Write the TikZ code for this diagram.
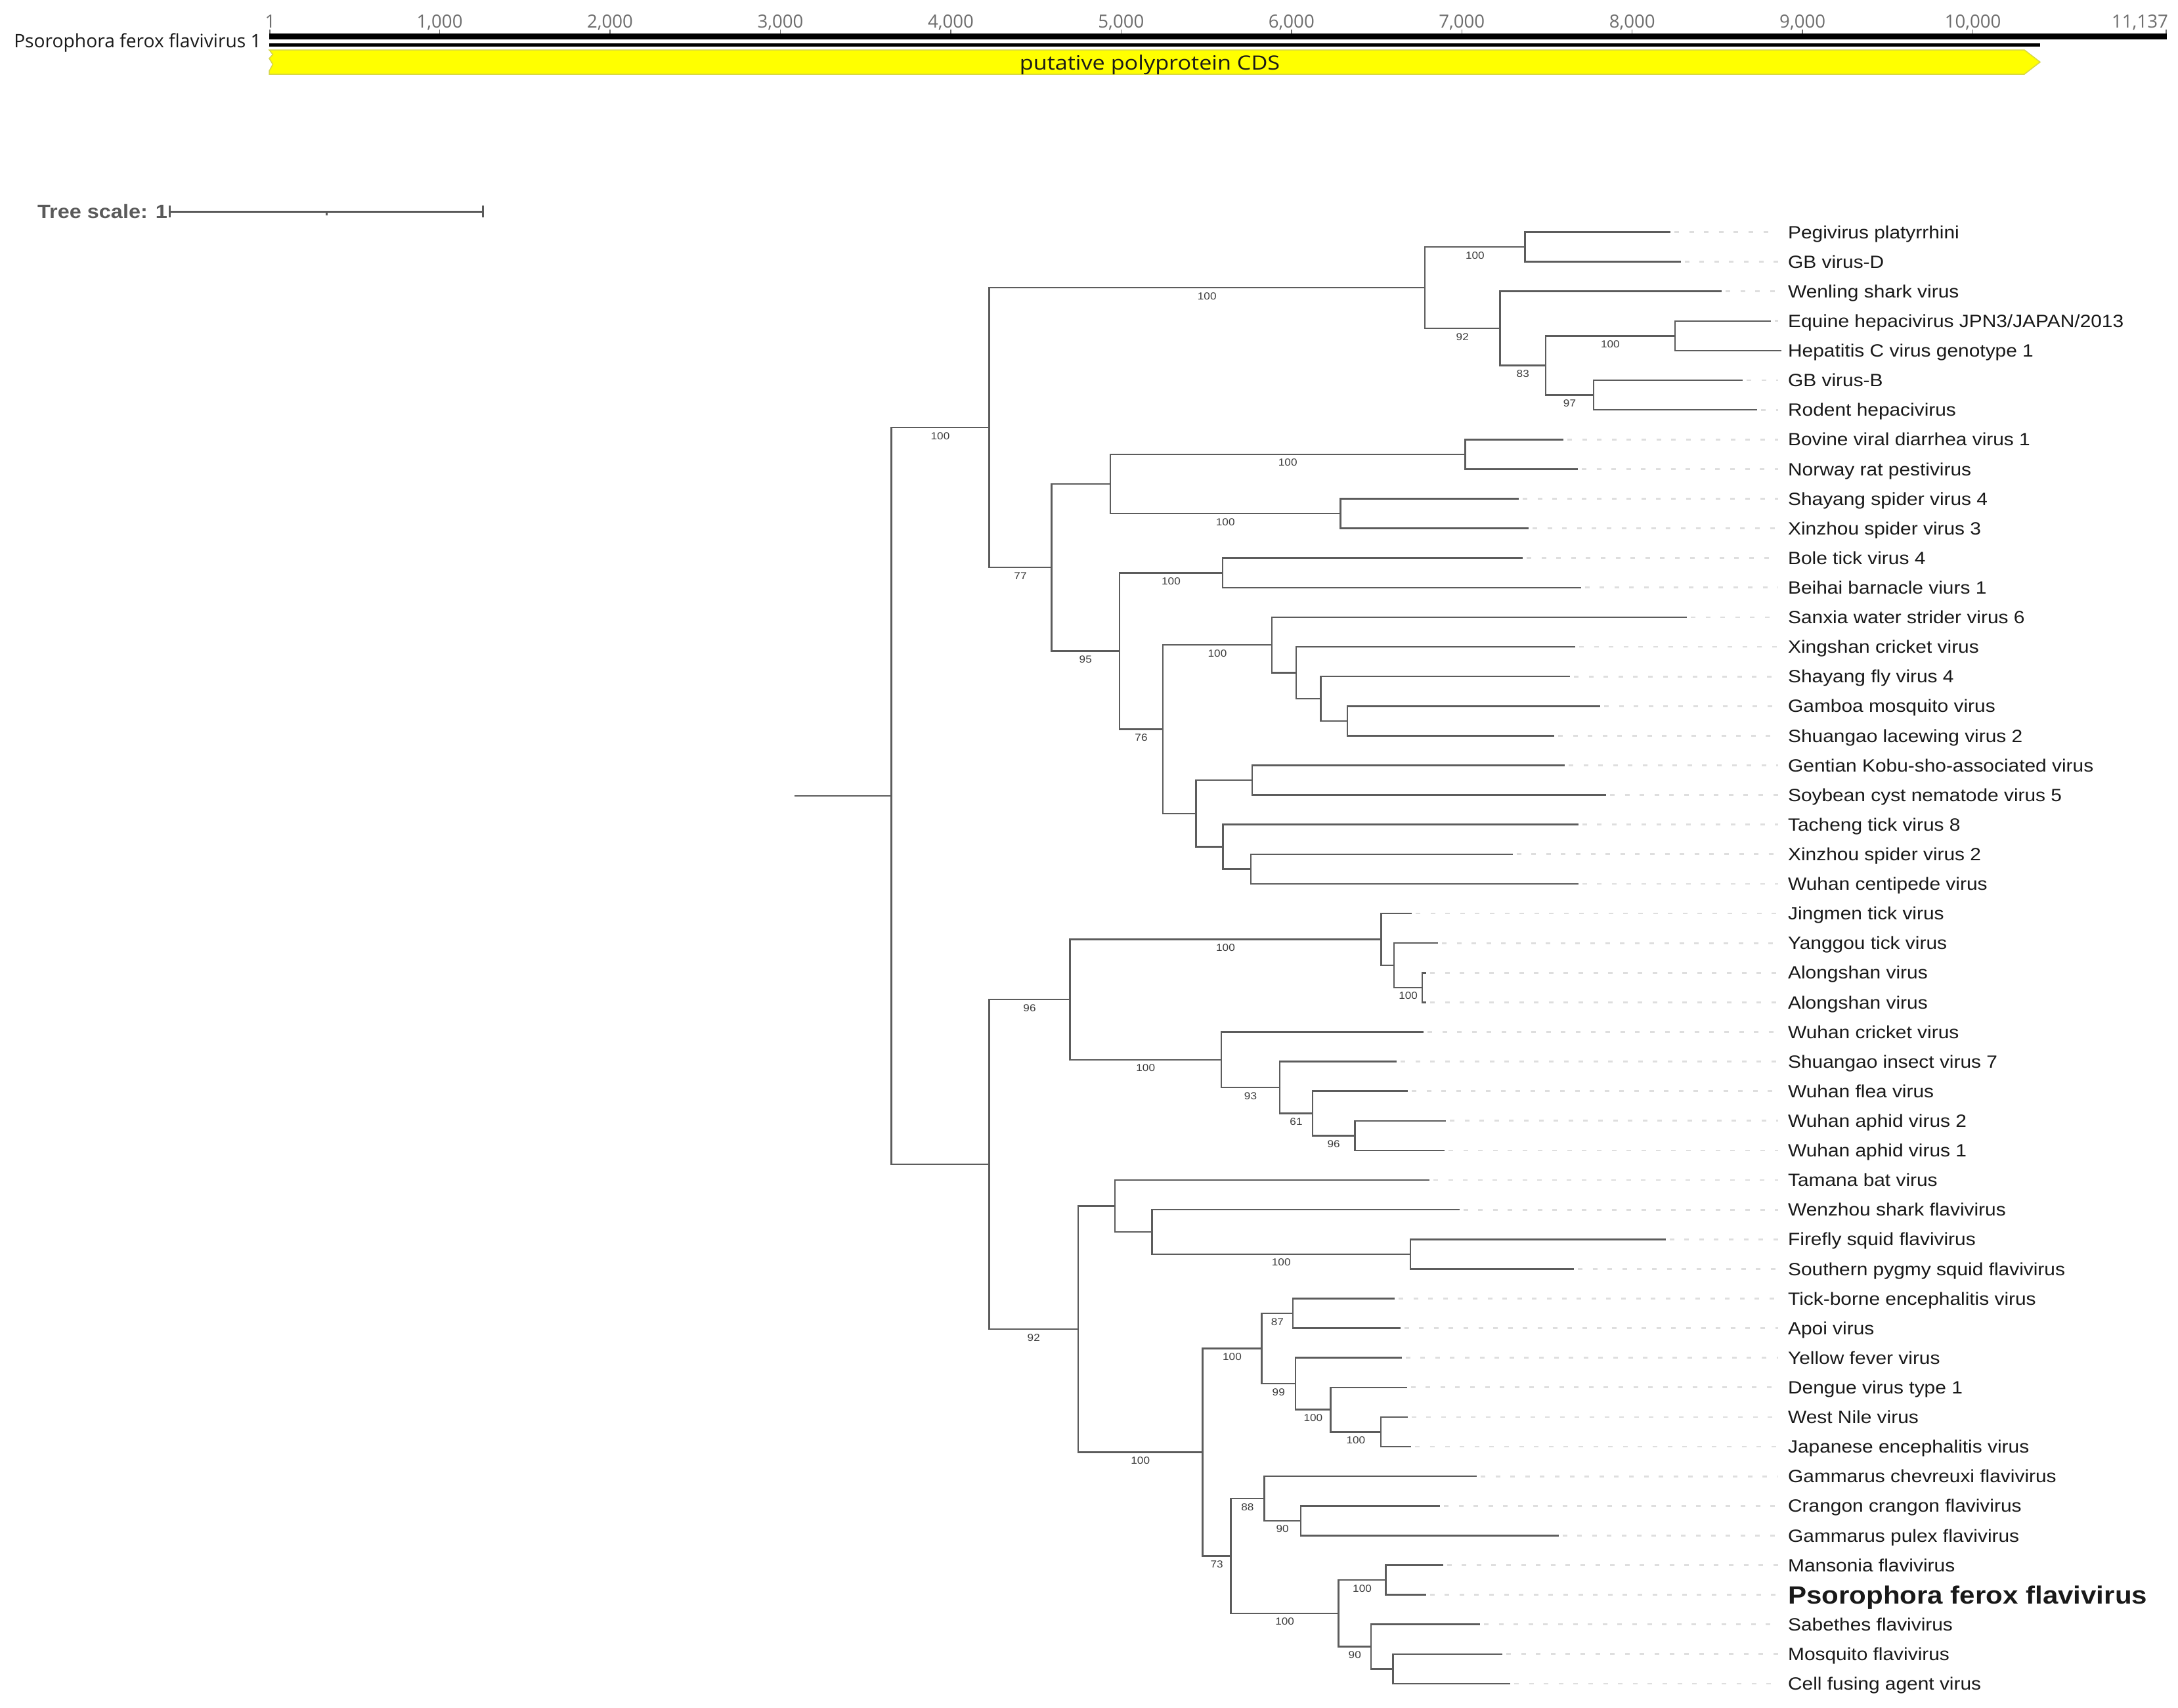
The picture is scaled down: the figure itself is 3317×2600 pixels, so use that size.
\documentclass[tikz,border=0pt]{standalone}
\usepackage{fontspec}
\setmainfont{Liberation Sans}
\newfontfamily\labfont[FakeStretch=1.107]{Liberation Sans}
\newfontfamily\gfont{Open Sans}
\newfontfamily\gfontw[FakeStretch=1.14]{Open Sans}
\usetikzlibrary{calc}
\definecolor{treegray}{RGB}{92,92,92}
\definecolor{guidegray}{RGB}{222,222,222}
\definecolor{bootgray}{RGB}{60,60,60}
\definecolor{tickgray}{RGB}{110,110,110}
\definecolor{labblack}{RGB}{25,25,25}
\definecolor{cdsyellow}{RGB}{255,255,0}
\definecolor{cdsedge}{RGB}{215,215,70}
\definecolor{scalegray}{RGB}{90,90,90}
\newcommand\LY[1]{353.5+45.11*(#1-1)}
\newcommand\leaf[5][lab]{%
  \coordinate (#2) at (#4,{\LY{#3}});
  \node[#1] (#2t) at (2722.9,{\LY{#3}}) {#5};
  \draw[guide] (#2) -- (#2t.west);}
\newcommand\leafng[5][lab]{%
  \coordinate (#2) at (#4,{\LY{#3}});
  \node[#1] (#2t) at (2722.9,{\LY{#3}}) {#5};}
\newcommand\inode[4]{\path let \p1=(#3),\p2=(#4) in ({#2pt},{0.5*\y1+0.5*\y2}) coordinate (#1);}
\newcommand\edge[3]{\draw[br] (#1) |- (#2) node[boot,pos=0.75]{#3};}
\tikzset{
  br/.style={draw=treegray, line width=2.5pt},
  guide/.style={draw=guidegray, line width=2.7pt, dash pattern=on 7pt off 15.6pt, shorten >=15pt, shorten <=6pt},
  lab/.style={anchor=west, inner sep=0pt, text height=19.4pt, text depth=0pt, text=labblack, font=\labfont\fontsize{27}{30}\selectfont},
  labb/.style={lab, text height=27.2pt, font=\labfont\bfseries\fontsize{38}{42}\selectfont},
  boot/.style={anchor=north, inner sep=0pt, yshift=-6pt, text=bootgray, font=\labfont\fontsize{15.5}{17}\selectfont},
  ticklab/.style={anchor=base, inner sep=0pt, text=tickgray, font=\gfont\fontsize{27.6}{30}\selectfont},
}
\begin{document}
\begin{tikzpicture}[x=1pt,y=-1pt]
\useasboundingbox (0,0) rectangle (3317,2600);
\fill[white] (0,0) rectangle (3317,2600);

% ---------------- genome map ----------------
\node[anchor=base east, inner sep=0pt, text=labblack, font=\gfont\fontsize{28.2}{30}\selectfont] (gname) at (398,72) {Psorophora ferox flavivirus 1};
\fill[black] (410,51) rectangle (3300,60);
\fill[black] (410,65.5) rectangle (3107,70.7);
\foreach \p/\t in {1000/{1,000},2000/{2,000},3000/{3,000},4000/{4,000},5000/{5,000},6000/{6,000},7000/{7,000},8000/{8,000},9000/{9,000},10000/{10,000}}{
  \pgfmathsetmacro\xx{1837.1+(\p-5500)*0.25944}
  \node[ticklab] at (\xx,42) {\t};
  \draw[tickgray, line width=1.5pt] (\xx,45) -- (\xx,51);
}
\node[ticklab] (t1) at (411.5,42) {1};
\draw[tickgray, line width=1.5pt] (410.8,45) -- (410.8,51);
\node[ticklab, anchor=base east] (tend) at (3302,42) {11,137};
\draw[tickgray, line width=1.5pt] (3299,45) -- (3299,51);
\filldraw[fill=cdsyellow, draw=cdsedge, line width=1.5pt] (410,76) -- (3083,76) -- (3107,94.5) -- (3083,113) -- (410,113) -- (410,108) -- (415.5,98) -- (410,89) -- (415.5,83) -- cycle;
\node[inner sep=0pt, anchor=base, text=labblack, font=\gfontw\fontsize{30}{33}\selectfont] (cds) at (1751,106) {putative polyprotein CDS};

% ---------------- tree scale ----------------
\node[anchor=base west, inner sep=0pt, text=scalegray, font=\labfont\bfseries\fontsize{29.3}{32}\selectfont] (ts) at (57,332) {Tree scale: 1};
\coordinate (sbl) at (258.7,322);
\coordinate (sbr) at (735.7,322);
\coordinate (sbm) at (497,322);
\draw[scalegray, line width=3pt] (sbl) -- (sbr);
\draw[scalegray, line width=3pt] ([yshift=9pt]sbl) -- ([yshift=-9pt]sbl);
\draw[scalegray, line width=3pt] ([yshift=9pt]sbr) -- ([yshift=-9pt]sbr);
\draw[scalegray, line width=3pt] (sbm) -- ([yshift=-6pt]sbm);

% ---------------- leaves ----------------
\leaf{peg}{1}{2544}{Pegivirus platyrrhini}
\leaf{gbd}{2}{2559.5}{GB virus-D}
\leaf{wen}{3}{2622}{Wenling shark virus}
\leaf{equ}{4}{2697}{Equine hepacivirus JPN3/JAPAN/2013}
\leafng{hcv}{5}{2713}{Hepatitis C virus genotype 1}
\leaf{gbb}{6}{2654}{GB virus-B}
\leaf{rod}{7}{2676}{Rodent hepacivirus}
\leaf{bvd}{8}{2381}{Bovine viral diarrhea virus 1}
\leaf{nrp}{9}{2403}{Norway rat pestivirus}
\leaf{ssa}{10}{2313}{Shayang spider virus 4}
\leaf{xsa}{11}{2328}{Xinzhou spider virus 3}
\leaf{btv}{12}{2319}{Bole tick virus 4}
\leaf{bbv}{13}{2407.5}{Beihai barnacle viurs 1}
\leaf{sws}{14}{2569}{Sanxia water strider virus 6}
\leaf{xcv}{15}{2399}{Xingshan cricket virus}
\leaf{sfv}{16}{2391}{Shayang fly virus 4}
\leaf{gmv}{17}{2437}{Gamboa mosquito virus}
\leaf{slv}{18}{2367}{Shuangao lacewing virus 2}
\leaf{gka}{19}{2383}{Gentian Kobu-sho-associated virus}
\leaf{scn}{20}{2446}{Soybean cyst nematode virus 5}
\leaf{ttv}{21}{2403.5}{Tacheng tick virus 8}
\leaf{xsb}{22}{2303.5}{Xinzhou spider virus 2}
\leaf{wcp}{23}{2403.5}{Wuhan centipede virus}
\leaf{jtv}{24}{2150}{Jingmen tick virus}
\leaf{ygv}{25}{2190}{Yanggou tick virus}
\leaf{ala}{26}{2172}{Alongshan virus}
\leaf{alb}{27}{2172}{Alongshan virus}
\leaf{wcv}{28}{2168}{Wuhan cricket virus}
\leaf{siv}{29}{2127}{Shuangao insect virus 7}
\leaf{wfv}{30}{2144}{Wuhan flea virus}
\leaf{wab}{31}{2202}{Wuhan aphid virus 2}
\leaf{waa}{32}{2200}{Wuhan aphid virus 1}
\leaf{tbv}{33}{2177}{Tamana bat virus}
\leaf{wsf}{34}{2222.5}{Wenzhou shark flavivirus}
\leaf{fsf}{35}{2536.5}{Firefly squid flavivirus}
\leaf{spf}{36}{2397}{Southern pygmy squid flavivirus}
\leaf{tbe}{37}{2124}{Tick-borne encephalitis virus}
\leaf{apo}{38}{2132.5}{Apoi virus}
\leaf{yfv}{39}{2134.5}{Yellow fever virus}
\leaf{den}{40}{2142.5}{Dengue virus type 1}
\leaf{wnv}{41}{2143.7}{West Nile virus}
\leaf{jev}{42}{2149.3}{Japanese encephalitis virus}
\leaf{gcf}{43}{2249}{Gammarus chevreuxi flavivirus}
\leaf{ccf}{44}{2193}{Crangon crangon flavivirus}
\leaf{gpf}{45}{2373.5}{Gammarus pulex flavivirus}
\leaf{man}{46}{2197.5}{Mansonia flavivirus}
\leaf[labb]{pff}{47}{2171.5}{Psorophora ferox flavivirus}
\leaf{sab}{48}{2254}{Sabethes flavivirus}
\leaf{mos}{49}{2288}{Mosquito flavivirus}
\leaf{cfa}{50}{2300}{Cell fusing agent virus}

% ---------------- internal nodes ----------------
\inode{npg}{2322.7}{peg}{gbd}
\inode{neh}{2550.8}{equ}{hcv}
\inode{ngr}{2427}{gbb}{rod}
\inode{nhep}{2354}{neh}{ngr}
\inode{nwh}{2284.5}{wen}{nhep}
\inode{npegi}{2170}{npg}{nwh}
\inode{npest}{2231.7}{bvd}{nrp}
\inode{nsp}{2041.7}{ssa}{xsa}
\inode{nps}{1690.8}{npest}{nsp}
\inode{nbb}{1862}{btv}{bbv}
\inode{ngl}{2052}{gmv}{slv}
\inode{nsf}{2011.5}{sfv}{ngl}
\inode{nxc}{1973.8}{xcv}{nsf}
\inode{nsa}{1937}{sws}{nxc}
\inode{ngs}{1907}{gka}{scn}
\inode{nxw}{1905}{xsb}{wcp}
\inode{ntt}{1862.5}{ttv}{nxw}
\inode{ngt}{1821.3}{ngs}{ntt}
\inode{nsev}{1771}{nsa}{ngt}
\inode{nnin}{1705}{nbb}{nsev}
\inode{nss}{1601.5}{nps}{nnin}
\inode{ntop}{1506.5}{npegi}{nss}
\inode{nal}{2166.2}{ala}{alb}
\inode{nyg}{2123}{ygv}{nal}
\inode{njm}{2103.5}{jtv}{nyg}
\inode{nwa}{2063.3}{wab}{waa}
\inode{nwf}{1999}{wfv}{nwa}
\inode{nsi}{1949}{siv}{nwf}
\inode{nwc}{1860}{wcv}{nsi}
\inode{njw}{1629.5}{njm}{nwc}
\inode{nfs}{2148}{fsf}{spf}
\inode{nws}{1754.5}{wsf}{nfs}
\inode{ntb}{1698}{tbv}{nws}
\inode{nta}{1969.2}{tbe}{apo}
\inode{nwj}{2103.2}{wnv}{jev}
\inode{ndw}{2026.6}{den}{nwj}
\inode{nyd}{1973}{yfv}{ndw}
\inode{nmbf}{1921.5}{nta}{nyd}
\inode{ncp}{1981}{ccf}{gpf}
\inode{ngam}{1925.3}{gcf}{ncp}
\inode{nmp}{2110.5}{man}{pff}
\inode{nmc}{2121.3}{mos}{cfa}
\inode{nsb}{2088}{sab}{nmc}
\inode{nmos}{2038.5}{nmp}{nsb}
\inode{nsvt}{1874.6}{ngam}{nmos}
\inode{ncf}{1831.5}{nmbf}{nsvt}
\inode{nnt}{1642}{ntb}{ncf}
\inode{nbot}{1506.5}{njw}{nnt}
\inode{nroot}{1357.5}{ntop}{nbot}
\path let \p1=(nroot) in (1210pt,\y1) coordinate (rstub);

% ---------------- branches ----------------
\draw[br] (rstub) -- (nroot);
\edge{nroot}{ntop}{100}
\edge{nroot}{nbot}{}
\edge{ntop}{npegi}{100}
\edge{ntop}{nss}{77}
\edge{npegi}{npg}{100}
\edge{npegi}{nwh}{92}
\edge{npg}{peg}{}
\edge{npg}{gbd}{}
\edge{nwh}{wen}{}
\edge{nwh}{nhep}{83}
\edge{nhep}{neh}{100}
\edge{nhep}{ngr}{97}
\edge{neh}{equ}{}
\edge{neh}{hcv}{}
\edge{ngr}{gbb}{}
\edge{ngr}{rod}{}
\edge{nss}{nps}{}
\edge{nss}{nnin}{95}
\edge{nps}{npest}{100}
\edge{nps}{nsp}{100}
\edge{npest}{bvd}{}
\edge{npest}{nrp}{}
\edge{nsp}{ssa}{}
\edge{nsp}{xsa}{}
\edge{nnin}{nbb}{100}
\edge{nnin}{nsev}{76}
\edge{nbb}{btv}{}
\edge{nbb}{bbv}{}
\edge{nsev}{nsa}{100}
\edge{nsev}{ngt}{}
\edge{nsa}{sws}{}
\edge{nsa}{nxc}{}
\edge{nxc}{xcv}{}
\edge{nxc}{nsf}{}
\edge{nsf}{sfv}{}
\edge{nsf}{ngl}{}
\edge{ngl}{gmv}{}
\edge{ngl}{slv}{}
\edge{ngt}{ngs}{}
\edge{ngt}{ntt}{}
\edge{ngs}{gka}{}
\edge{ngs}{scn}{}
\edge{ntt}{ttv}{}
\edge{ntt}{nxw}{}
\edge{nxw}{xsb}{}
\edge{nxw}{wcp}{}
\edge{nbot}{njw}{96}
\edge{nbot}{nnt}{92}
\edge{njw}{njm}{100}
\edge{njw}{nwc}{100}
\edge{njm}{jtv}{}
\edge{njm}{nyg}{}
\edge{nyg}{ygv}{}
\edge{nyg}{nal}{100}
\edge{nal}{ala}{}
\edge{nal}{alb}{}
\edge{nwc}{wcv}{}
\edge{nwc}{nsi}{93}
\edge{nsi}{siv}{}
\edge{nsi}{nwf}{61}
\edge{nwf}{wfv}{}
\edge{nwf}{nwa}{96}
\edge{nwa}{wab}{}
\edge{nwa}{waa}{}
\edge{nnt}{ntb}{}
\edge{nnt}{ncf}{100}
\edge{ntb}{tbv}{}
\edge{ntb}{nws}{}
\edge{nws}{wsf}{}
\edge{nws}{nfs}{100}
\edge{nfs}{fsf}{}
\edge{nfs}{spf}{}
\edge{ncf}{nmbf}{100}
\edge{ncf}{nsvt}{73}
\edge{nmbf}{nta}{87}
\edge{nmbf}{nyd}{99}
\edge{nta}{tbe}{}
\edge{nta}{apo}{}
\edge{nyd}{yfv}{}
\edge{nyd}{ndw}{100}
\edge{ndw}{den}{}
\edge{ndw}{nwj}{100}
\edge{nwj}{wnv}{}
\edge{nwj}{jev}{}
\edge{nsvt}{ngam}{88}
\edge{nsvt}{nmos}{100}
\edge{ngam}{gcf}{}
\edge{ngam}{ncp}{90}
\edge{ncp}{ccf}{}
\edge{ncp}{gpf}{}
\edge{nmos}{nmp}{100}
\edge{nmos}{nsb}{90}
\edge{nmp}{man}{}
\edge{nmp}{pff}{}
\edge{nsb}{sab}{}
\edge{nsb}{nmc}{}
\edge{nmc}{mos}{}
\edge{nmc}{cfa}{}
\end{tikzpicture}
\end{document}
